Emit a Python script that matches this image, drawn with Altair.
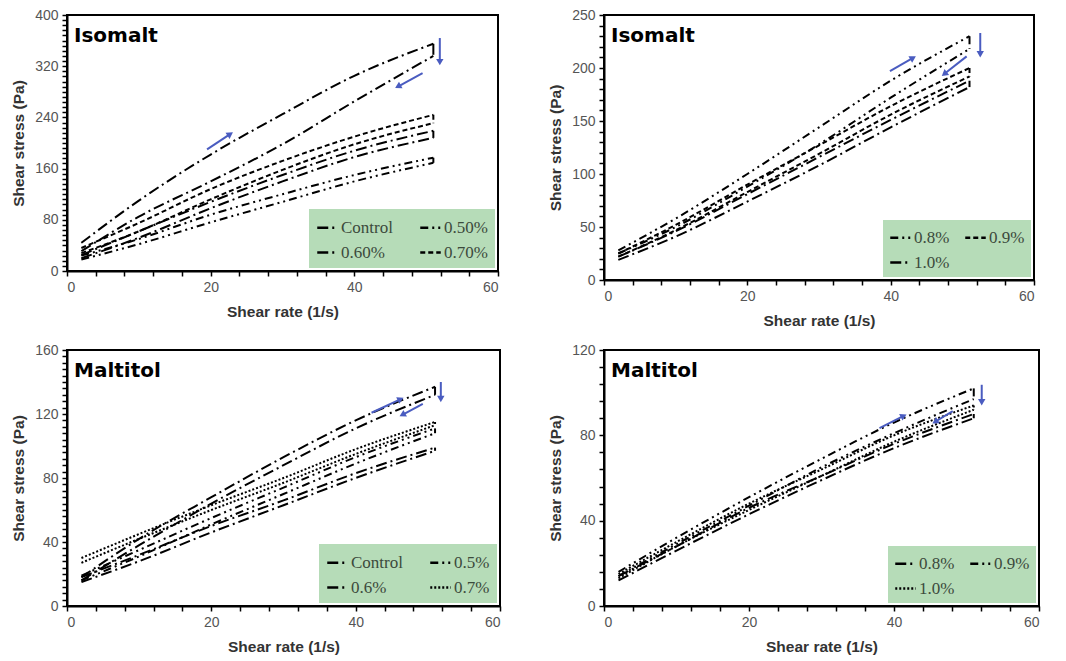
import math
import altair as alt
import pandas as pd

# ---------------- data ----------------
shear_rate = [2, 10, 20, 30, 40, 51]

# Isomalt, low concentrations (top-left)
iso_lo_series = ["Control", "0.50%", "0.60%", "0.70%"]
iso_lo_up = {
    "Control": [25, 62, 108, 150, 188, 219],
    "0.50%": [24, 50, 88, 120, 150, 177],
    "0.60%": [44, 110, 182, 245, 305, 355],
    "0.70%": [36, 75, 128, 172, 210, 244],
}
iso_lo_down = {
    "Control": [20, 52, 98, 140, 178, 208],
    "0.50%": [18, 42, 76, 108, 140, 169],
    "0.60%": [31, 85, 140, 198, 265, 336],
    "0.70%": [28, 62, 112, 158, 198, 231],
}

# Isomalt, high concentrations (top-right)
iso_hi_series = ["0.8%", "0.9%", "1.0%"]
iso_hi_up = {
    "0.8%": [28, 58, 100, 144, 188, 230],
    "0.9%": [25, 52, 90, 127, 164, 200],
    "1.0%": [22, 46, 81, 116, 151, 188],
}
iso_hi_down = {
    "0.8%": [25, 50, 88, 128, 172, 218],
    "0.9%": [22, 47, 83, 119, 156, 192],
    "1.0%": [19, 41, 74, 108, 144, 182],
}

# Maltitol, low concentrations (bottom-left)
mal_lo_series = ["Control", "0.5%", "0.6%", "0.7%"]
mal_lo_up = {
    "Control": [18, 32, 50, 66, 83, 99],
    "0.5%": [19, 35, 55, 74, 93, 111],
    "0.6%": [18, 42, 68, 93, 116, 137],
    "0.7%": [30, 45, 63, 80, 98, 115],
}
mal_lo_down = {
    "Control": [15, 28, 46, 63, 80, 97],
    "0.5%": [16, 31, 51, 70, 89, 108],
    "0.6%": [16, 38, 64, 88, 111, 132],
    "0.7%": [27, 42, 60, 77, 95, 113],
}

# Maltitol, high concentrations (bottom-right)
mal_hi_series = ["0.8%", "0.9%", "1.0%"]
mal_hi_up = {
    "0.8%": [14, 28, 46, 61, 76, 90],
    "0.9%": [16, 32, 51, 69, 86, 102],
    "1.0%": [15, 30, 48, 64, 80, 94],
}
mal_hi_down = {
    "0.8%": [12, 26, 43, 59, 74, 88],
    "0.9%": [14, 29, 47, 65, 81, 97],
    "1.0%": [13, 28, 45, 61, 77, 92],
}

# direction arrows (x1, y1, x2, y2) in data units
iso_lo_arrows = [(19.5, 190, 22.6, 213), (49.5, 309, 46.2, 289), (51.9, 364, 51.9, 328)]
iso_hi_arrows = [(39.9, 197, 43.0, 209), (50.6, 211, 47.6, 195), (52.5, 233, 52.5, 214)]
mal_lo_arrows = [(42.2, 120.8, 46.1, 129), (49.3, 126.4, 46.6, 119.8), (51.8, 140, 51.8, 130)]
mal_hi_arrows = [(38.0, 83.4, 41.2, 88.9), (48.1, 91.3, 45.8, 86.6), (52.1, 103.7, 52.1, 96)]

# axis ticks
x_ticks = list(range(0, 61, 4))
iso_lo_yticks = list(range(0, 401, 8))
iso_hi_yticks = list(range(0, 251, 10))
mal_lo_yticks = list(range(0, 161, 4))
mal_hi_yticks = list(range(0, 121, 8))

# dash styles
LONG_DASH_DOT = [11, 4, 2, 4]
DASH_DOT_DOT = [8, 4, 2, 4, 2, 4]
SHORT_DASH = [5, 3]
DOTTED = [2, 2]

iso_lo_dash = [LONG_DASH_DOT, DASH_DOT_DOT, LONG_DASH_DOT, SHORT_DASH]
iso_hi_dash = [DASH_DOT_DOT, SHORT_DASH, LONG_DASH_DOT]
mal_lo_dash = [LONG_DASH_DOT, DASH_DOT_DOT, LONG_DASH_DOT, DOTTED]
mal_hi_dash = [LONG_DASH_DOT, DASH_DOT_DOT, DOTTED]

ARROW_BLUE = "#4a5cc0"
LEGEND_FILL = "#b6dcb8"


def curve_frame(series, up, down):
    rows = []
    for s in series:
        for phase, vals in (("up", up[s]), ("down", down[s])):
            for xv, yv in zip(shear_rate, vals):
                rows.append({"series": s, "key": s + "-" + phase, "x": xv, "y": yv})
    return pd.DataFrame(rows)


def turn_frame(series, up, down):
    rows = []
    for s in series:
        rows.append({"series": s, "x": shear_rate[-1], "y": up[s][-1], "y2": down[s][-1]})
    return pd.DataFrame(rows)


def panel(name, series, up, down, dashes, arrows, ymax, yticks, ystep, w, h, colpad, pad):
    xaxis = alt.Axis(
        values=x_ticks,
        labelExpr="datum.value % 20 == 0 ? datum.label : ''",
        title="Shear rate (1/s)",
        grid=False,
        labelOverlap=False,
    )
    yaxis = alt.Axis(
        values=yticks,
        labelExpr=f"datum.value % {ystep} == 0 ? datum.label : ''",
        title="Shear stress (Pa)",
        grid=False,
        labelOverlap=False,
    )
    xs = alt.Scale(domain=[0, 60], nice=False)
    ys = alt.Scale(domain=[0, ymax], nice=False)
    legend = alt.Legend(
        orient="bottom-right",
        direction="horizontal",
        offset=3,
        columns=2,
        fillColor=LEGEND_FILL,
        padding=pad,
        rowPadding=5,
        columnPadding=colpad,
        symbolType="stroke",
        symbolSize=420,
        symbolStrokeWidth=2.5,
        symbolStrokeColor="black",
        labelFont="Liberation Serif",
        labelFontSize=17,
        labelColor="#3c4a3c",
        labelOffset=2,
    )
    dash = alt.StrokeDash(
        "series:N", scale=alt.Scale(domain=series, range=dashes), title=None, legend=legend
    )

    lines = alt.Chart(curve_frame(series, up, down)).mark_line(
        color="black", strokeWidth=2, interpolate="monotone"
    ).encode(
        x=alt.X("x:Q", scale=xs, axis=xaxis),
        y=alt.Y("y:Q", scale=ys, axis=yaxis),
        detail="key:N",
        strokeDash=dash,
    )
    turns = alt.Chart(turn_frame(series, up, down)).mark_rule(
        color="black", strokeWidth=2
    ).encode(
        x=alt.X("x:Q", scale=xs, axis=xaxis),
        y=alt.Y("y:Q", scale=ys, axis=yaxis),
        y2="y2:Q",
        strokeDash=dash,
    )

    rows = []
    for (x1, y1, x2, y2) in arrows:
        dxp = (x2 - x1) * w / 60.0
        dyp = (y2 - y1) * h / ymax
        ang = math.degrees(math.atan2(dxp, dyp)) % 360
        rows.append({"x": x1, "y": y1, "x2": x2, "y2": y2, "ang": ang})
    adf = pd.DataFrame(rows)
    shafts = alt.Chart(adf).mark_rule(color=ARROW_BLUE, strokeWidth=2).encode(
        x=alt.X("x:Q", scale=xs, axis=xaxis),
        y=alt.Y("y:Q", scale=ys, axis=yaxis),
        x2="x2:Q",
        y2="y2:Q",
    )
    heads = alt.Chart(adf).mark_point(
        shape="triangle", filled=True, color=ARROW_BLUE, size=55, opacity=1
    ).encode(
        x=alt.X("x2:Q", scale=xs, axis=xaxis),
        y=alt.Y("y2:Q", scale=ys, axis=yaxis),
        angle=alt.Angle("ang:Q", scale=None),
    )

    label = alt.Chart(pd.DataFrame({"t": [name]})).mark_text(
        align="left", baseline="alphabetic", font="DejaVu Sans", fontWeight="bold",
        fontSize=20, color="black"
    ).encode(text="t:N", x=alt.value(7), y=alt.value(27))

    return alt.layer(lines, turns, shafts, heads, label).properties(width=w, height=h)


tl = panel("Isomalt", iso_lo_series, iso_lo_up, iso_lo_down, iso_lo_dash,
           iso_lo_arrows, 400, iso_lo_yticks, 80, 431, 256, 22, 7)
tr = panel("Isomalt", iso_hi_series, iso_hi_up, iso_hi_down, iso_hi_dash,
           iso_hi_arrows, 250, iso_hi_yticks, 50, 430, 265, 10, 6)
bl = panel("Maltitol", mal_lo_series, mal_lo_up, mal_lo_down, mal_lo_dash,
           mal_lo_arrows, 160, mal_lo_yticks, 40, 433, 256, 22, 7)
br = panel("Maltitol", mal_hi_series, mal_hi_up, mal_hi_down, mal_hi_dash,
           mal_hi_arrows, 120, mal_hi_yticks, 40, 435, 256, 10, 6)

row1 = alt.hconcat(tl, tr, spacing=47).resolve_scale(
    x="independent", y="independent", strokeDash="independent"
).resolve_legend(strokeDash="independent")
row2 = alt.hconcat(bl, br, spacing=45).resolve_scale(
    x="independent", y="independent", strokeDash="independent"
).resolve_legend(strokeDash="independent")

chart = alt.vconcat(row1, row2, spacing=12).resolve_scale(
    x="independent", y="independent", strokeDash="independent"
).resolve_legend(strokeDash="independent").properties(
    padding={"left": 2, "top": -1, "right": 0, "bottom": 0}, background="white"
).configure_view(
    stroke="black", strokeWidth=2
).configure_axis(
    domainColor="black", domainWidth=2, tickColor="black", tickWidth=1.5,
    tickSize=5, labelFont="Liberation Sans", labelFontSize=14,
    labelColor="#555555", titleFont="Liberation Sans", titleFontSize=15.5,
    titleFontWeight="bold", titleColor="#333333", labelPadding=4
).configure_axisX(titlePadding=10).configure_axisY(titlePadding=8)

chart.save("out.html", embed_options={"renderer": "svg", "actions": False})
